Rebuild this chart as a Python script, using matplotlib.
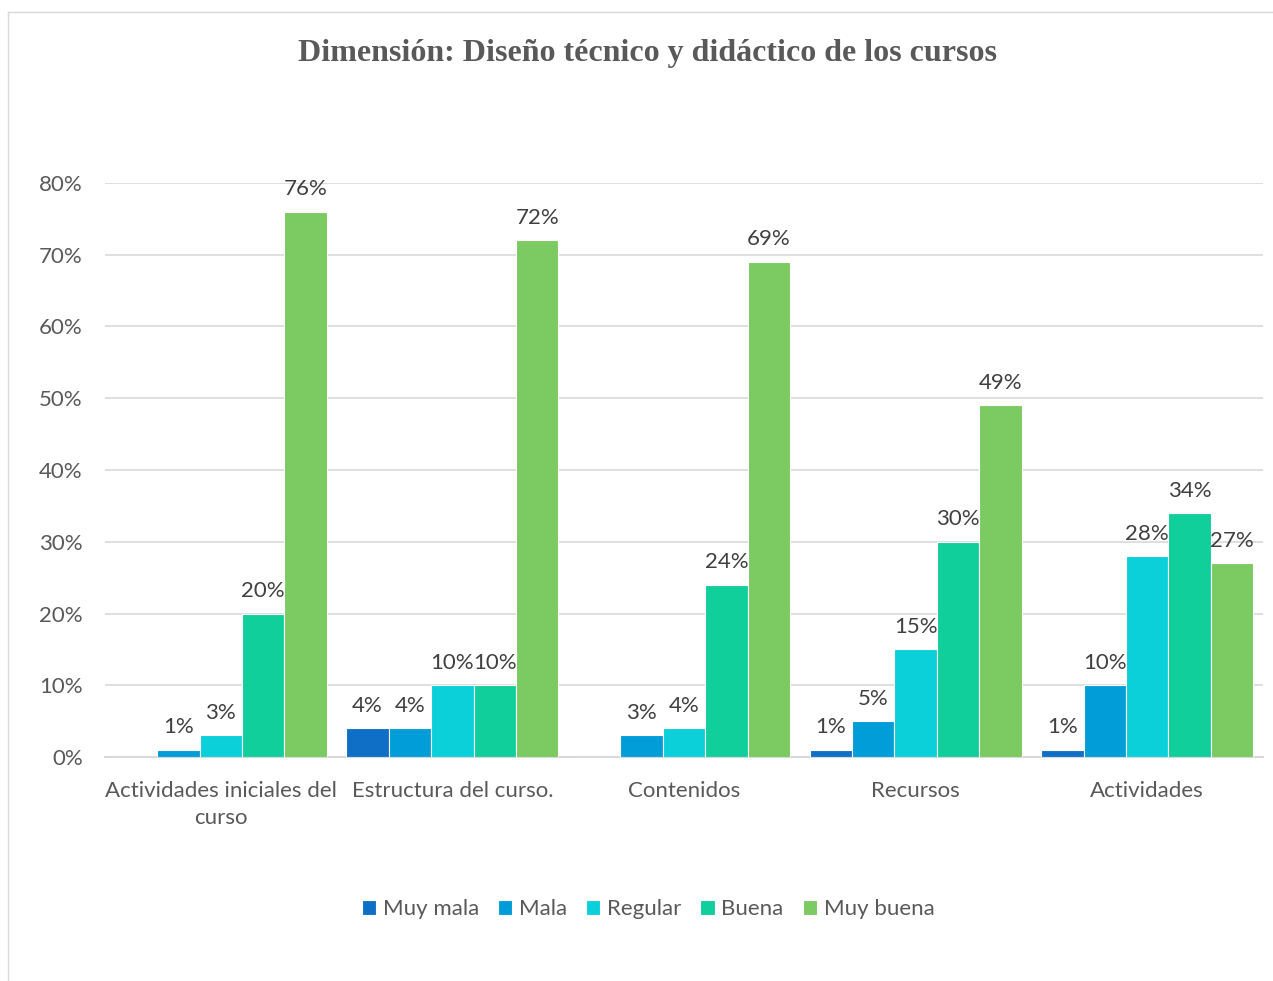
import matplotlib
matplotlib.use("Agg")
import matplotlib.pyplot as plt
from matplotlib.lines import Line2D
import numpy as np

categories = ["Actividades iniciales del\ncurso", "Estructura del curso.", "Contenidos", "Recursos", "Actividades"]
series = ["Muy mala", "Mala", "Regular", "Buena", "Muy buena"]
muy_mala = [0, 4, 0, 1, 1]
mala = [1, 4, 3, 5, 10]
regular = [3, 10, 4, 15, 28]
buena = [20, 10, 24, 30, 34]
muy_buena = [76, 72, 69, 49, 27]
values = [muy_mala, mala, regular, buena, muy_buena]
colors = ["#0F6FC6", "#009DD9", "#0BD0D9", "#10CF9B", "#7CCA62"]
yticks = [0, 10, 20, 30, 40, 50, 60, 70, 80]

font = ["Lato", "DejaVu Sans"]
fs = 16
W, H = 1273, 981
fig = plt.figure(figsize=(W / 100, H / 100), dpi=100)
ax = fig.add_axes([105 / W, (H - 757) / H, (1263 - 105) / W, (757 - 183) / H])

x = np.arange(len(categories))
bw = 0.183
for i, (name, vals, c) in enumerate(zip(series, values, colors)):
    pos = x + (i - 2) * bw
    bars = ax.bar(pos, vals, width=bw, color=c, edgecolor="white", linewidth=0.8, label=name, zorder=3)
    for b, v in zip(bars, vals):
        if v > 0:
            ax.annotate(f"{v}%", (b.get_x() + b.get_width() / 2, v), xytext=(0, 9),
                        textcoords="offset points", ha="center", va="bottom",
                        fontsize=fs, color="#404040", family=font)

ax.set_xlim(-0.5, len(categories) - 0.5)
ax.set_ylim(0, 80)
ax.set_yticks(yticks)
ax.set_yticklabels([f"{t}%" for t in yticks], family=font, fontsize=fs, color="#595959")
ax.set_xticks(x)
ax.set_xticklabels(categories, family=font, fontsize=fs, color="#595959", linespacing=1.45)
ax.tick_params(axis="both", length=0)
ax.tick_params(axis="y", pad=16)
ax.tick_params(axis="x", pad=17)
ax.grid(axis="y", color="#D9D9D9", linewidth=1.2, zorder=0)
ax.set_axisbelow(True)
for s in ["top", "right", "left"]:
    ax.spines[s].set_visible(False)
ax.spines["bottom"].set_color("#D9D9D9")
ax.spines["bottom"].set_linewidth(1.5)

fig.text(647 / W, (H - 54) / H, "Dimensión: Diseño técnico y didáctico de los cursos",
         ha="center", va="center", fontsize=23, fontweight="bold",
         family=["Liberation Serif", "DejaVu Serif"], color="#595959")

leg = fig.legend(loc="center", bbox_to_anchor=(648 / W, (H - 909) / H), ncol=5, frameon=False,
                 prop={"family": font, "size": fs}, handlelength=0.65, handleheight=0.65,
                 handletextpad=0.3, columnspacing=0.85, labelcolor="#595959")

fig.add_artist(Line2D([8 / W, 1.0], [(H - 12) / H, (H - 12) / H], transform=fig.transFigure, color="#D9D9D9", linewidth=1))
fig.add_artist(Line2D([8 / W, 8 / W], [(H - 12) / H, 0], transform=fig.transFigure, color="#D9D9D9", linewidth=1))

fig.savefig("out.png", dpi=100)
